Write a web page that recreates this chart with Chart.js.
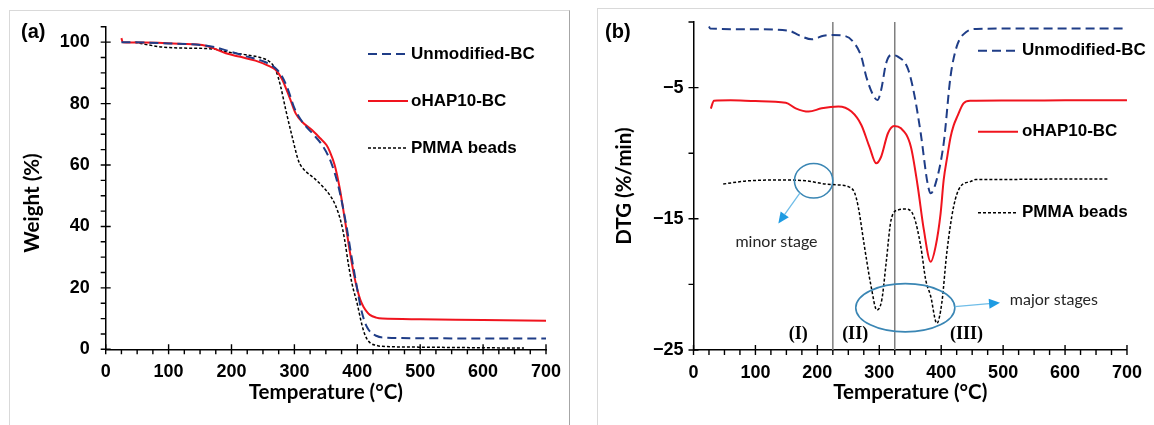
<!DOCTYPE html>
<html>
<head>
<meta charset="utf-8">
<script src="https://cdn.jsdelivr.net/npm/chart.js@4.4.1/dist/chart.umd.min.js"></script>
<style>
  html, body { margin: 0; padding: 0; background: #fff; }
  body { width: 1154px; height: 425px; position: relative; overflow: hidden; }
  .frame { position: absolute; border: 1px solid #d9d9d9; }
  canvas { position: absolute; top: 0; }
  .tag { position: absolute; font: bold 20px "Liberation Sans", Arial, sans-serif; color: #000; }
</style>
</head>
<body>
<div class="frame" style="left:9px;top:10px;width:559px;height:440px;border-right-color:#a6a6a6"></div>
<div class="frame" style="left:597px;top:8px;width:600px;height:440px"></div>
<canvas id="tgaChart" width="577" height="425" style="left:0"></canvas>
<canvas id="dtgChart" width="577" height="425" style="left:577px"></canvas>
<div class="tag" style="left:21px;top:20px">(a)</div>
<div class="tag" style="left:605px;top:20px">(b)</div>

<script>
// ---- (a) TGA : weight (%) vs temperature (°C)
const tgaTempBC = [25, 60, 100, 150, 175, 200, 225, 250, 270, 280, 290, 300, 310, 320, 330, 344, 358, 370, 382, 391, 400, 405, 411, 416, 423, 430, 438, 500, 700];
const tgaWeightBC = [100, 99.9, 99.6, 99.1, 98.3, 96.8, 95.3, 93.8, 91.5, 89, 84.5, 78.5, 74.8, 72.2, 70, 66.5, 61, 53, 41, 30, 19.5, 14, 9.4, 7, 5.2, 4.4, 3.9, 3.6, 3.5];

const tgaTempHAP = [25, 27, 60, 117, 159, 191, 212, 238, 259, 270, 280, 293, 302, 312, 328, 341, 351, 356, 364, 372, 380, 388, 395, 400, 405, 410, 415, 420, 430, 440, 500, 600, 700];
const tgaWeightHAP = [101.3, 100, 99.9, 99.45, 98.8, 96.4, 95.3, 94.0, 92.3, 91.0, 88.1, 81.6, 76.8, 74.1, 71.4, 68.7, 66.5, 64.5, 60, 52.5, 42.5, 32, 24, 19.5, 16, 13.8, 12.3, 11.2, 10.3, 10.0, 9.8, 9.5, 9.3];

const tgaTempPMMA = [46, 65, 90, 117, 170, 196, 223, 249, 262, 270, 278, 286, 296, 307, 314, 332, 345, 356, 365, 374, 380, 386, 392, 400, 405, 410, 415, 421, 430, 437, 500, 600, 665];
const tgaWeightPMMA = [100, 99.2, 98.4, 98.1, 97.8, 96.7, 95.9, 94.8, 93.4, 91.1, 85.7, 78.2, 69.6, 61.1, 58.8, 55.6, 53, 50.3, 47, 41.5, 35.5, 27.5, 21, 14.7, 10, 6, 3.5, 2, 1.3, 1, 0.7, 0.5, 0.4];

// ---- (b) DTG : %/min vs temperature (°C)
const dtgTempBC = [25, 27, 100, 154, 170, 191, 210, 223, 245, 260, 271, 279, 290, 297, 303, 311, 319, 330, 346, 356, 367, 378, 383, 391, 404, 415, 425, 441, 457, 500, 700];
const dtgRateBC = [-0.35, -0.5, -0.56, -0.66, -1.0, -1.32, -1.05, -0.99, -1.07, -1.63, -2.64, -4.17, -5.56, -5.95, -5.18, -3.15, -2.52, -2.64, -3.53, -5.4, -8.5, -12.3, -13.06, -12.3, -9.25, -4.17, -1.88, -0.74, -0.53, -0.5, -0.5];

const dtgTempHAP = [28, 33, 60, 100, 149, 165, 186, 207, 234, 255, 271, 284, 295, 303, 314, 324, 335, 351, 362, 372, 383, 391, 399, 404, 410, 415, 420, 426, 436, 447, 500, 600, 700];
const dtgRateHAP = [-6.6, -6.0, -5.97, -6.03, -6.15, -6.58, -6.83, -6.58, -6.45, -6.83, -7.85, -9.5, -10.77, -10.27, -8.48, -7.93, -8.1, -9.5, -12.5, -15.85, -18.27, -17.1, -14.6, -12.04, -10.2, -8.8, -7.9, -7.2, -6.2, -6.0, -5.98, -5.97, -5.96];

const dtgTempPMMA = [48, 85, 138, 181, 213, 234, 250, 260, 266, 276, 287, 296, 304, 311, 319, 330, 343, 356, 367, 375, 383, 393, 401, 409, 420, 431, 447, 456, 500, 600, 670];
const dtgRatePMMA = [-12.35, -12.12, -12.04, -12.1, -12.35, -12.42, -12.55, -13.0, -14.08, -17.1, -20.2, -21.95, -21.2, -18.4, -15.1, -14.33, -14.25, -14.84, -17.1, -19.66, -20.9, -22.97, -21.4, -17.6, -14.08, -12.55, -12.17, -12.0, -12.0, -11.97, -11.97];

// stage boundaries (°C) and stage labels
const stageBounds = [225, 325];
const stageLabels = ['(I)', '(II)', '(III)'];
const stageLabelTemps = [169, 261, 441];

const seriesNames = ['Unmodified-BC', 'oHAP10-BC', 'PMMA beads'];

const SANS = '"Liberation Sans", Arial, sans-serif';
const TITLE_FONT = { family: 'Lato, "Open Sans", sans-serif', size: 20.5, weight: 'bold' };
const TICK_FONT = { family: SANS, size: 18, weight: 'bold' };

const styleBC = { borderColor: '#1F3D87', borderWidth: 2, borderDash: [9, 5] };
const styleHAP = { borderColor: '#F0141E', borderWidth: 2, borderDash: [] };
const stylePMMA = { borderColor: '#000000', borderWidth: 1.5, borderDash: [3, 2] };

const toPoints = (xs, ys) => xs.map((x, i) => ({ x: x, y: ys[i] }));

function lineSet(label, xs, ys, style) {
    return Object.assign({
        label: label,
        data: toPoints(xs, ys),
        pointRadius: 0,
        fill: false,
        cubicInterpolationMode: 'monotone'
    }, style);
}

// excel-like ticks: labelled ones cross the axis, the rest point outwards
const tickMarks = {
    id: 'tickMarks',
    afterDraw(chart) {
        const { ctx } = chart;
        const xs = chart.scales.x, ys = chart.scales.y;
        ctx.save();
        ctx.strokeStyle = '#000';
        ctx.lineWidth = 1.4;
        ctx.beginPath();
        xs.ticks.forEach(t => {
            const px = xs.getPixelForValue(t.value);
            ctx.moveTo(px, xs.top + 5);
            ctx.lineTo(px, t.label !== '' ? xs.top - 5 : xs.top);
        });
        ys.ticks.forEach(t => {
            const py = ys.getPixelForValue(t.value);
            ctx.moveTo(ys.right - 5, py);
            ctx.lineTo(t.label !== '' ? ys.right + 5 : ys.right, py);
        });
        ctx.stroke();
        ctx.restore();
    }
};

// legend entries placed freely on the plot
const sideLegend = {
    id: 'sideLegend',
    afterDraw(chart, args, opts) {
        const { ctx } = chart;
        ctx.save();
        opts.rows.forEach((rowY, i) => {
            const ds = chart.data.datasets[i];
            ctx.strokeStyle = ds.borderColor;
            ctx.lineWidth = ds.borderWidth;
            ctx.setLineDash(ds.borderDash || []);
            ctx.beginPath();
            ctx.moveTo(opts.x1, rowY);
            ctx.lineTo(opts.x2, rowY);
            ctx.stroke();
            ctx.setLineDash([]);
            ctx.fillStyle = '#000';
            ctx.font = 'bold 17px ' + SANS;
            ctx.textBaseline = 'middle';
            ctx.fillText(ds.label, opts.textX, rowY);
        });
        ctx.restore();
    }
};

// ellipses, arrows and notes on the DTG panel
const stageNotes = {
    id: 'stageNotes',
    afterDatasetsDraw(chart) {
        const { ctx } = chart;
        const xs = chart.scales.x, ys = chart.scales.y;
        const X = v => xs.getPixelForValue(v), Y = v => ys.getPixelForValue(v);

        function ellipse(cx, cy, rx, ry) {
            ctx.beginPath();
            ctx.ellipse(X(cx), Y(cy), Math.abs(X(cx + rx) - X(cx)), Math.abs(Y(cy + ry) - Y(cy)), 0, 0, Math.PI * 2);
            ctx.stroke();
        }
        function arrow(x0, y0, x1, y1) {
            const ax = X(x0), ay = Y(y0), bx = X(x1), by = Y(y1);
            const ang = Math.atan2(by - ay, bx - ax);
            const hl = 11, hw = 5;
            const ex = bx - hl * Math.cos(ang), ey = by - hl * Math.sin(ang);
            ctx.strokeStyle = '#6FBDE8';
            ctx.lineWidth = 1.3;
            ctx.beginPath();
            ctx.moveTo(ax, ay);
            ctx.lineTo(ex, ey);
            ctx.stroke();
            ctx.fillStyle = '#1E9BE2';
            ctx.beginPath();
            ctx.moveTo(bx, by);
            ctx.lineTo(ex - hw * Math.sin(ang), ey + hw * Math.cos(ang));
            ctx.lineTo(ex + hw * Math.sin(ang), ey - hw * Math.cos(ang));
            ctx.closePath();
            ctx.fill();
        }

        ctx.save();
        ctx.strokeStyle = '#3A86B4';
        ctx.lineWidth = 1.6;
        ellipse(194, -12.1, 31, 1.32);
        ellipse(342, -21.78, 80, 1.84);
        arrow(172, -13.03, 137, -15.35);
        arrow(422, -21.7, 495, -21.4);

        ctx.fillStyle = '#262626';
        ctx.font = '16px Lato, "Open Sans", sans-serif';
        ctx.textAlign = 'center';
        ctx.textBaseline = 'middle';
        ctx.fillText('minor stage', X(134), Y(-16.75));
        ctx.fillText('major stages', X(582), Y(-21.2));

        ctx.fillStyle = '#000';
        ctx.font = 'bold 18px "Liberation Serif", "Times New Roman", serif';
        stageLabels.forEach((s, i) => ctx.fillText(s, X(stageLabelTemps[i]), Y(-23.78)));
        ctx.restore();
    }
};

function xAxis(height) {
    return {
        type: 'linear',
        min: 0,
        max: 700,
        afterFit: s => { s.height = height; },
        grid: { display: false, drawTicks: false },
        border: { display: true, color: '#000', width: 1.5 },
        ticks: {
            stepSize: 25,
            autoSkip: false,
            maxRotation: 0,
            padding: 12,
            color: '#000',
            font: TICK_FONT,
            callback: v => (v % 100 === 0 ? String(v) : '')
        },
        title: {
            display: true,
            text: 'Temperature (°C)',
            color: '#000',
            font: TITLE_FONT,
            padding: { top: 0, bottom: 20 }
        }
    };
}

Chart.defaults.font.family = SANS;

// (a) TGA
new Chart(document.getElementById('tgaChart'), {
    type: 'line',
    data: {
        datasets: [
            lineSet(seriesNames[0], tgaTempBC, tgaWeightBC, styleBC),
            lineSet(seriesNames[1], tgaTempHAP, tgaWeightHAP, styleHAP),
            lineSet(seriesNames[2], tgaTempPMMA, tgaWeightPMMA, stylePMMA)
        ]
    },
    options: {
        responsive: false,
        animation: false,
        layout: { padding: { left: 0, right: 31, top: 23.5, bottom: 0 } },
        plugins: {
            legend: { display: false },
            tooltip: { enabled: false },
            sideLegend: { x1: 368, x2: 408, textX: 411, rows: [54, 101, 148] }
        },
        scales: {
            x: xAxis(75.7),
            y: {
                type: 'linear',
                min: 0,
                max: 105,
                afterFit: s => { s.width = 105.7; },
                grid: { display: false, drawTicks: false },
                border: { display: true, color: '#000', width: 1.5 },
                ticks: {
                    stepSize: 5,
                    autoSkip: false,
                    padding: 16,
                    color: '#000',
                    font: TICK_FONT,
                    callback: v => (v % 20 === 0 ? String(v) : '')
                },
                title: {
                    display: true,
                    // trailing spaces push the visible words a little lower, as in the source
                    text: 'Weight (%)      ',
                    color: '#000',
                    font: TITLE_FONT,
                    padding: { top: 20, bottom: 0 }
                }
            }
        }
    },
    plugins: [tickMarks, sideLegend]
});

// (b) DTG
const boundarySets = stageBounds.map(t => ({
    label: '',
    data: [{ x: t, y: 0 }, { x: t, y: -25 }],
    borderColor: '#7F7F7F',
    borderWidth: 1.5,
    pointRadius: 0
}));

new Chart(document.getElementById('dtgChart'), {
    type: 'line',
    data: {
        datasets: [
            lineSet(seriesNames[0], dtgTempBC, dtgRateBC, styleBC),
            lineSet(seriesNames[1], dtgTempHAP, dtgRateHAP, styleHAP),
            lineSet(seriesNames[2], dtgTempPMMA, dtgRatePMMA, stylePMMA)
        ].concat(boundarySets)
    },
    options: {
        responsive: false,
        animation: false,
        layout: { padding: { left: 0, right: 22, top: 22, bottom: 0 } },
        plugins: {
            legend: { display: false },
            tooltip: { enabled: false },
            sideLegend: { x1: 401, x2: 441, textX: 445, rows: [50.7, 131.7, 212.7] }
        },
        scales: {
            x: xAxis(75),
            y: {
                type: 'linear',
                min: -25,
                max: 0,
                afterFit: s => { s.width = 116.5; },
                grid: { display: false, drawTicks: false },
                border: { display: true, color: '#000', width: 1.5 },
                ticks: {
                    stepSize: 5,
                    autoSkip: false,
                    padding: 10,
                    color: '#000',
                    font: TICK_FONT,
                    callback: v => ((v + 5) % 10 === 0 ? '\u2212' + Math.abs(v) : '')
                },
                title: {
                    display: true,
                    text: 'DTG (%/min)',
                    color: '#000',
                    font: TITLE_FONT,
                    padding: { top: 35, bottom: 0 }
                }
            }
        }
    },
    plugins: [tickMarks, sideLegend, stageNotes]
});
</script>
</body>
</html>
